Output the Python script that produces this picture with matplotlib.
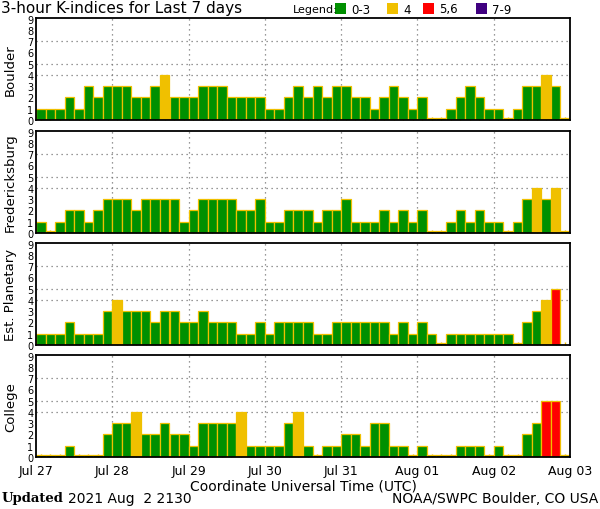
import numpy as np
import matplotlib
matplotlib.use("Agg")
import matplotlib.pyplot as plt
from matplotlib.patches import Rectangle

# Data: 3-hour K-indices, 8 values per day, Jul 27 - Aug 02 (nan = no data yet)
nan = np.nan
day_labels = ["Jul 27", "Jul 28", "Jul 29", "Jul 30", "Jul 31", "Aug 01", "Aug 02", "Aug 03"]
stations = ["Boulder", "Fredericksburg", "Est. Planetary", "College"]

boulder = [1, 1, 1, 2, 1, 3, 2, 3, 3, 3, 2, 2, 3, 4, 2, 2, 2, 3, 3, 3, 2, 2, 2, 2, 1, 1, 2,
           3, 2, 3, 2, 3, 3, 2, 2, 1, 2, 3, 2, 1, 2, 0, 0, 1, 2, 3, 2, 1, 1, 0, 1, 3, 3, 4, 3, 0]
fredericksburg = [1, 0, 1, 2, 2, 1, 2, 3, 3, 3, 2, 3, 3, 3, 3, 1, 2, 3, 3, 3, 3, 2, 2, 3, 1, 1, 2,
                  2, 2, 1, 2, 2, 3, 1, 1, 1, 2, 1, 2, 1, 2, 0, 0, 1, 2, 1, 2, 1, 1, 0, 1, 3, 4, 3, 4, 0]
planetary = [1, 1, 1, 2, 1, 1, 1, 3, 4, 3, 3, 3, 2, 3, 3, 2, 2, 3, 2, 2, 2, 1, 1, 2, 1, 2, 2,
             2, 2, 1, 1, 2, 2, 2, 2, 2, 2, 1, 2, 1, 2, 1, 0, 1, 1, 1, 1, 1, 1, 1, 0, 2, 3, 4, 5, nan]
college = [0, 0, 0, 1, 0, 0, 0, 2, 3, 3, 4, 2, 2, 3, 2, 2, 1, 3, 3, 3, 3, 4, 1, 1, 1, 1, 3,
           4, 1, 0, 1, 1, 2, 2, 1, 3, 3, 1, 1, 0, 1, 0, 0, 0, 1, 1, 1, 0, 1, 0, 0, 2, 3, 5, 5, 0]

series = [boulder, fredericksburg, planetary, college]

legend_labels = ["0-3", "4", "5,6", "7-9"]
green, yellow, red, purple = "#009000", "#F0C000", "#FF0000", "#400080"
edge = "#F0C000"


def kcolor(k):
    if k <= 3:
        return green
    if k == 4:
        return yellow
    if k <= 6:
        return red
    return purple


fig = plt.figure(figsize=(6.0, 5.1), dpi=100)
plt.rcParams["font.family"] = ["DejaVu Sans"]

bottoms = [1 - 121 / 510, 1 - 234 / 510, 1 - 346 / 510, 1 - 458 / 510]
left, width, height = 36 / 600, 534 / 600, 102 / 510

axes = []
for name, vals, bot in zip(stations, series, bottoms):
    ax = fig.add_axes([left, bot, width, height])
    axes.append(ax)
    vals = np.array(vals, dtype=float)
    x = (np.arange(len(vals)) + 0.5) / 8.0
    ok = ~np.isnan(vals)
    # zero values are drawn as a thin sliver
    heights = np.where(vals[ok] == 0, 0.22, vals[ok])
    colors = [kcolor(v) for v in vals[ok]]
    ax.bar(x[ok], heights, width=1 / 8.0, color=colors, edgecolor=edge,
           linewidth=0.9, zorder=2)

    ax.set_xlim(0, 7)
    ax.set_ylim(0, 9.05)
    ax.set_yticks(range(10))
    ax.set_yticklabels([str(i) for i in range(10)], fontsize=7)
    ax.tick_params(axis="y", length=0, pad=2)
    ax.set_xticks(range(8))
    ax.set_xticks((np.arange(56) + 0.5) / 8.0, minor=True)
    ax.tick_params(axis="x", which="major", length=0)
    ax.tick_params(axis="x", which="minor", direction="in", length=2.5,
                   width=1, color=edge)
    for d in range(1, 7):
        ax.axvline(d, color="#777777", linestyle=(0, (1, 3)), linewidth=0.9, zorder=1)
    for yv in (4, 5, 7):
        ax.axhline(yv, color="#777777", linestyle=(0, (1, 3)), linewidth=0.9, zorder=1)
    for s in ax.spines.values():
        s.set_linewidth(1.3)
    ax.set_ylabel(name, fontsize=9.5, labelpad=7)
    if name != "College":
        ax.set_xticklabels([])

axes[-1].set_xticklabels(day_labels, fontsize=9)
axes[-1].tick_params(axis="x", which="major", pad=5)
axes[-1].set_xlabel("Coordinate Universal Time (UTC)", fontsize=10, labelpad=1)

# Title and legend
fig.text(0.002, 1 - 9 / 510, "3-hour K-indices for Last 7 days", fontsize=11,
         va="center", ha="left")
fig.text(293 / 600, 1 - 10 / 510, "Legend:", fontsize=8, va="center", ha="left")
legend_colors = [green, yellow, red, purple]
legend_x = [335, 387, 423, 476]
for lab, c, lx in zip(legend_labels, legend_colors, legend_x):
    fig.patches.append(Rectangle((lx / 600, 1 - 15 / 510), 11 / 600, 11 / 510,
                                 transform=fig.transFigure, facecolor=c,
                                 edgecolor="none"))
    fig.text((lx + 16) / 600, 1 - 10 / 510, lab, fontsize=8.5, va="center", ha="left")

# Footer
fig.text(0.002, 1 - 499 / 510, "Updated", fontsize=9.5, fontweight="bold",
         family="DejaVu Serif", va="center", ha="left")
fig.text(68 / 600, 1 - 499 / 510, "2021 Aug  2 2130", fontsize=10, va="center", ha="left")
fig.text(0.997, 1 - 499 / 510, "NOAA/SWPC Boulder, CO USA", fontsize=10,
         va="center", ha="right")

fig.savefig("out.png", dpi=100)
